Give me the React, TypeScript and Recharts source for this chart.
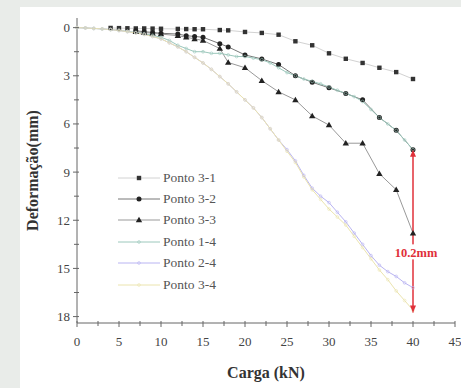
import {
  LineChart,
  Line,
  XAxis,
  YAxis,
  ReferenceLine,
  ReferenceDot,
} from "recharts"

const xTicks = [0, 2.5, 5, 7.5, 10, 12.5, 15, 17.5, 20, 22.5, 25, 27.5, 30, 32.5, 35, 37.5, 40, 42.5, 45]
const yTicks = [0, 1.5, 3, 4.5, 6, 7.5, 9, 10.5, 12, 13.5, 15, 16.5, 18]

// Ponto 3-1 (squares)
const p31 = [
  [4, 0.02], [5, 0.03], [6, 0.04], [7, 0.05], [8, 0.05], [9, 0.06], [10, 0.07],
  [12, 0.08], [13, 0.09], [14, 0.1], [15, 0.1], [17, 0.15], [18, 0.17],
  [20, 0.27], [22, 0.33], [24, 0.44], [26, 0.85], [28, 1.1], [30, 1.6],
  [32, 1.94], [34, 2.2], [36, 2.5], [38, 2.77], [40, 3.2],
]

// Ponto 3-2 (filled dots)
const p32 = [
  [7, 0.2], [8, 0.25], [9, 0.3], [10, 0.35], [12, 0.4], [13, 0.5], [14, 0.55],
  [15, 0.6], [17, 1.0], [18, 1.2], [20, 1.7], [22, 1.95], [24, 2.3], [26, 3.0],
  [28, 3.4], [30, 3.75], [32, 4.1], [34, 4.5], [36, 5.6], [38, 6.4], [40, 7.6],
]

// Ponto 3-3 (triangles)
const p33 = [
  [7, 0.25], [8, 0.3], [9, 0.35], [10, 0.4], [12, 0.5], [13, 0.6], [14, 0.7],
  [15, 0.8], [17, 1.3], [18, 2.17], [20, 2.5], [22, 3.3], [24, 4.0], [26, 4.5],
  [28, 5.5], [30, 6.07], [32, 7.2], [34, 7.2], [36, 9.1], [38, 10.1], [40, 12.8],
]

const load = [
  0, 1, 2, 3, 4, 5, 6, 7, 8, 9, 10, 11, 12, 13, 14, 15, 16, 17, 18, 19, 20,
  21, 22, 23, 24, 25, 26, 27, 28, 29, 30, 31, 32, 33, 34, 35, 36, 37, 38, 39, 40,
]

const p14 = [
  0, 0.02, 0.05, 0.08, 0.12, 0.17, 0.23, 0.3, 0.38, 0.48, 0.6, 0.8, 1.1, 1.3, 1.5, 1.5,
  1.6, 1.6, 1.7, 1.8, 1.8, 1.9, 2.0, 2.2, 2.5, 2.8, 3.0, 3.2, 3.35, 3.5, 3.7,
  3.9, 4.1, 4.3, 4.6, 5.1, 5.6, 6.0, 6.4, 7.0, 7.6,
]

const p24 = [
  0, 0.02, 0.05, 0.08, 0.12, 0.18, 0.25, 0.33, 0.42, 0.55, 0.7, 0.95, 1.2, 1.5, 1.85, 2.2,
  2.6, 3.05, 3.5, 4.0, 4.5, 5.0, 5.6, 6.3, 7.0, 7.6, 8.3, 9.2, 10.0, 10.5, 10.9,
  11.5, 12.1, 12.8, 13.5, 14.2, 14.8, 15.2, 15.5, 15.9, 16.2,
]

const p34 = [
  0, 0.02, 0.05, 0.08, 0.12, 0.18, 0.25, 0.33, 0.42, 0.55, 0.7, 0.95, 1.2, 1.5, 1.85, 2.2,
  2.6, 3.05, 3.5, 4.0, 4.5, 5.0, 5.6, 6.3, 7.0, 7.7, 8.4, 9.3, 10.1, 10.7, 11.3,
  11.8, 12.3, 13.0, 13.7, 14.4, 15.1, 15.7, 16.4, 17.0, 17.6,
]

const arrowTop = 7.6
const arrowBottom = 17.75
const arrowLabel = "10.2mm"

const toPts = (arr: number[][]) => arr.map(([x, y]) => ({ x, y }))
const fromLoad = (vals: number[]) => vals.map((y, i) => ({ x: load[i], y }))

const FONT = "Liberation Serif, Times New Roman, DejaVu Serif, serif"

const square = (p: any) => (
  <rect key={p.index} x={p.cx - 2.2} y={p.cy - 2.2} width={4.4} height={4.4} fill="#333" />
)
const disc = (p: any) => <circle key={p.index} cx={p.cx} cy={p.cy} r={2.5} fill="#222" />
const tri = (p: any) => (
  <path key={p.index} d={`M${p.cx},${p.cy - 3.2}L${p.cx + 3.2},${p.cy + 2.3}L${p.cx - 3.2},${p.cy + 2.3}Z`} fill="#222" />
)
const ring = (color: string) => (p: any) => (
  <circle key={p.index} cx={p.cx} cy={p.cy} r={1.4} fill="none" stroke={color} strokeWidth={0.6} />
)

const series = [
  { name: "Ponto 3-1", data: toPts(p31), stroke: "#d2d2d2", dot: square },
  { name: "Ponto 3-2", data: toPts(p32), stroke: "#777", dot: disc },
  { name: "Ponto 3-3", data: toPts(p33), stroke: "#999", dot: tri },
  { name: "Ponto 1-4", data: fromLoad(p14), stroke: "#9cc8bc", dot: ring("#9cc8bc") },
  { name: "Ponto 2-4", data: fromLoad(p24), stroke: "#b9b4f2", dot: ring("#b9b4f2") },
  { name: "Ponto 3-4", data: fromLoad(p34), stroke: "#ebe4ae", dot: ring("#ebe4ae") },
]

const XTick = (props: any) => {
  const { x, y, payload } = props
  const major = payload.value % 5 === 0
  return (
    <g>
      <line x1={x} x2={x} y1={y - 2} y2={y + (major ? 4 : 3)} stroke="#666" />
      {major && (
        <text x={x} y={y + 23} textAnchor="middle" style={{ fontSize: 13, fontFamily: FONT }} fill="#444">
          {payload.value}
        </text>
      )}
    </g>
  )
}

const YTick = (props: any) => {
  const { x, y, payload } = props
  const major = payload.value % 3 === 0
  return (
    <g>
      <line x1={x + 2} x2={x - (major ? 4 : 3)} y1={y} y2={y} stroke="#666" />
      {major && (
        <text x={x - 7} y={y + 4.5} textAnchor="end" style={{ fontSize: 13, fontFamily: FONT }} fill="#444">
          {payload.value}
        </text>
      )}
    </g>
  )
}

const LegendBox = () => (
  <div style={{ position: "absolute", left: 98, top: 160, fontFamily: FONT, fontSize: 13.5, color: "#555", pointerEvents: "none" }}>
    {series.map((s, i) => (
      <div key={i} style={{ display: "flex", alignItems: "center", height: 21.4 }}>
        <svg width={45} height={12}>
          <line x1={0} x2={42} y1={6} y2={6} stroke={s.stroke} strokeWidth={1} />
          {s.dot({ cx: 21, cy: 6, index: 0 })}
        </svg>
        <span>{s.name}</span>
      </div>
    ))}
  </div>
)

const arrowUp = (p: any) => (
  <path d={`M${p.cx},${p.cy}L${p.cx + 3},${p.cy + 7}L${p.cx - 3},${p.cy + 7}Z`} fill="#e0303a" />
)
const arrowDown = (p: any) => (
  <path d={`M${p.cx},${p.cy}L${p.cx + 3},${p.cy - 7}L${p.cx - 3},${p.cy - 7}Z`} fill="#e0303a" />
)
const labelShape = (p: any) => (
  <g>
    <rect x={p.cx - 24} y={p.cy - 8} width={52} height={15} fill="#fff" />
    <text x={p.cx + 3} y={p.cy + 4.5} textAnchor="middle" style={{ fontSize: 12.5, fontWeight: "bold", fontFamily: FONT }} fill="#e0303a">
      {arrowLabel}
    </text>
  </g>
)

export default function App() {
  return (
    <div style={{ position: "fixed", left: 0, top: 0, width: 461, height: 388, background: "#e9ece9", fontFamily: FONT }}>
      <div style={{ position: "absolute", left: 20, top: 7, width: 441, height: 381, background: "#fff" }}>
        <LineChart width={441} height={381} margin={{ top: 11, right: 6, left: 0, bottom: 0 }} style={{ fontFamily: FONT }}>
          <XAxis
            type="number"
            dataKey="x"
            domain={[0, 45]}
            ticks={xTicks}
            interval={0}
            tick={<XTick />}
            tickLine={false}
            tickSize={0}
            tickMargin={0}
            height={65}
            stroke="#666"
            allowDuplicatedCategory={false}
            label={{
              value: "Carga (kN)",
              position: "insideBottom",
              offset: 10,
              style: { fontFamily: FONT, fontWeight: "bold", fontSize: 16, fill: "#333" },
            }}
          />
          <XAxis xAxisId="top" orientation="top" type="number" domain={[0, 45]} height={0} tick={false} tickLine={false} stroke="#666" />
          <YAxis
            type="number"
            dataKey="y"
            reversed
            domain={[-0.6, 18.4]}
            ticks={yTicks}
            interval={0}
            tick={<YTick />}
            tickLine={false}
            tickSize={0}
            tickMargin={0}
            width={57}
            stroke="#666"
            label={{
              value: "Deformação(mm)",
              angle: -90,
              position: "insideLeft",
              offset: 12,
              style: { fontFamily: FONT, fontWeight: "bold", fontSize: 16, fill: "#333", textAnchor: "middle" },
            }}
          />
          <YAxis yAxisId="right" orientation="right" width={0} tick={false} tickLine={false} stroke="#666" />
          {series.map((s) => (
            <Line
              key={s.name}
              name={s.name}
              data={s.data}
              dataKey="y"
              type="linear"
              stroke={s.stroke}
              strokeWidth={1}
              dot={s.dot}
              activeDot={false}
              isAnimationActive={false}
            />
          ))}
          <ReferenceLine
            segment={[{ x: 40, y: arrowTop }, { x: 40, y: arrowBottom }]}
            stroke="#e0303a"
            strokeWidth={1.5}
            ifOverflow="visible"
          />
          <ReferenceDot x={40} y={arrowTop} shape={arrowUp} ifOverflow="visible" />
          <ReferenceDot x={40} y={arrowBottom} shape={arrowDown} ifOverflow="visible" />
          <ReferenceDot x={40} y={14} shape={labelShape} ifOverflow="visible" />
        </LineChart>
        <LegendBox />
      </div>
    </div>
  )
}
